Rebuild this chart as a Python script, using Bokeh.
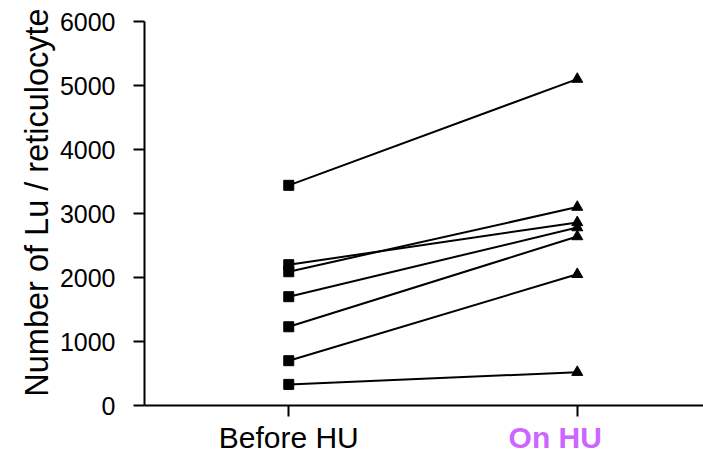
from bokeh.plotting import figure
from bokeh.models import ColumnDataSource, FixedTicker, Range1d
from bokeh.layouts import row, column
from bokeh.core.properties import value
from bokeh.embed import file_html
from bokeh.resources import INLINE

categories = ["Before HU", "On HU"]
before_hu = [3440, 2200, 2090, 1700, 1230, 700, 330]
on_hu = [5100, 2860, 3100, 2780, 2640, 2050, 520]
y_ticks = [0, 1000, 2000, 3000, 4000, 5000, 6000]
y_title = "Number of Lu / reticulocyte"

FONT = "Liberation Sans"
PURPLE = "#CC66FF"
cat_colors = ["black", PURPLE]
cat_styles = ["normal", "bold"]
cat_offsets = [0, -22]

XR = Range1d(-0.5, 1.4375)

# ---------- main plot ----------
p = figure(width=647, height=420, output_backend="svg", toolbar_location=None,
           x_range=XR, y_range=Range1d(0, 6000),
           min_border_left=88, min_border_right=0, min_border_top=21,
           min_border_bottom=15)
p.outline_line_color = None
p.xgrid.visible = False
p.ygrid.visible = False

xs = [[0, 1] for _ in before_hu]
ys = [[b, o] for b, o in zip(before_hu, on_hu)]
p.multi_line(xs, ys, line_color="black", line_width=2)

src_b = ColumnDataSource(dict(x=[0] * len(before_hu), y=before_hu))
src_o = ColumnDataSource(dict(x=[1] * len(on_hu), y=on_hu))
p.scatter("x", "y", source=src_b, marker="square", size=10, fill_color="black", line_color="black")
p.scatter("x", "y", source=src_o, marker="triangle", size=11, fill_color="black", line_color="black")

ya = p.yaxis[0]
ya.ticker = FixedTicker(ticks=y_ticks)
ya.minor_tick_line_color = None
ya.major_tick_out = 11
ya.major_tick_in = 0
ya.major_tick_line_width = 2
ya.axis_line_width = 2
ya.major_label_standoff = 18
ya.major_label_text_font = FONT
ya.major_label_text_font_size = "25px"
ya.major_label_text_color = "black"

xa = p.xaxis[0]
xa.ticker = FixedTicker(ticks=[0, 1])
xa.minor_tick_line_color = None
xa.major_tick_out = 11
xa.major_tick_in = 0
xa.major_tick_line_width = 2
xa.axis_line_width = 2
xa.major_label_standoff = 0
xa.major_label_overrides = {0: "", 1: ""}

# ---------- category labels strip ----------
p2 = figure(width=647, height=34, output_backend="svg", toolbar_location=None,
            x_range=XR, y_range=Range1d(0, 34),
            min_border_left=88, min_border_right=0, min_border_top=0,
            min_border_bottom=0, x_axis_location=None, y_axis_location=None)
p2.outline_line_color = None
p2.xgrid.visible = False
p2.ygrid.visible = False
src_c = ColumnDataSource(dict(x=[0, 1], y=[17, 17], text=categories,
                              color=cat_colors, style=cat_styles, xoff=cat_offsets))
p2.text(x="x", y="y", text="text", source=src_c, x_offset="xoff",
        text_color="color", text_font_style="style", text_font=value(FONT),
        text_font_size="30px", text_align="center", text_baseline="middle")

# ---------- y title strip (axis label only) ----------
p3 = figure(width=56, height=454, output_backend="svg", toolbar_location=None,
            x_range=Range1d(0, 1), y_range=Range1d(0, 1),
            min_border_left=54, min_border_right=0, min_border_top=0,
            min_border_bottom=50, x_axis_location=None)
p3.outline_line_color = None
p3.xgrid.visible = False
p3.ygrid.visible = False
a3 = p3.yaxis[0]
a3.ticker = FixedTicker(ticks=[])
a3.axis_line_color = None
a3.major_tick_line_color = None
a3.minor_tick_line_color = None
a3.major_label_standoff = 0
a3.axis_label = y_title
a3.axis_label_standoff = 0
a3.axis_label_text_font = FONT
a3.axis_label_text_font_size = "32.5px"
a3.axis_label_text_font_style = "normal"
a3.axis_label_text_color = "black"

layout = row(p3, column(p, p2, spacing=0), spacing=0)

open("out.html", "w").write(file_html(layout, INLINE))
